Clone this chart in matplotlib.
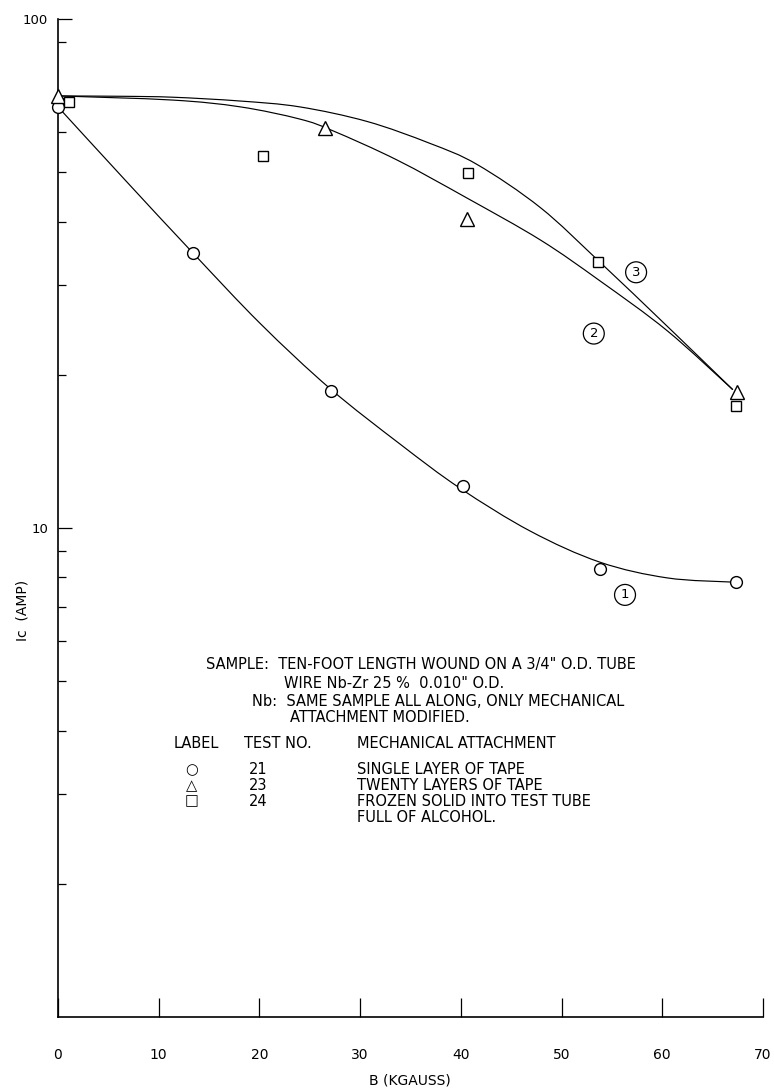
import matplotlib
matplotlib.use('Agg')
import matplotlib.pyplot as plt
import numpy as np
from matplotlib.path import Path
from matplotlib.patches import PathPatch
from matplotlib.ticker import FixedLocator, NullFormatter

plt.rcParams['font.family'] = ['DejaVu Sans']

W, H = 774, 1092

# measured points, B in kgauss, Ic in amp
b_21 = [0.0, 13.4, 27.1, 40.2, 53.8, 67.3]
ic_21 = [67.2, 34.7, 18.6, 12.1, 8.31, 7.83]
b_23 = [0.0, 26.5, 40.6, 67.4]
ic_23 = [70.6, 61.1, 40.5, 18.5]
b_24 = [1.1, 20.4, 40.7, 53.6, 67.3]
ic_24 = [68.7, 53.8, 49.8, 33.3, 17.4]

# hand drawn curves
curve1_b = [0.0, 6.65, 13.4, 20.1, 27.0, 34.0, 39.9, 46.9, 53.8, 60.5, 67.0]
curve1_ic = [67.2, 48.3, 34.7, 25.2, 18.8, 14.6, 11.98, 9.86, 8.57, 7.98, 7.83]
curve2_b = [0.2, 11.4, 18.1, 24.0, 27.3, 33.7, 40.6, 47.9, 53.8, 60.5, 67.0]
curve2_ic = [70.6, 69.3, 67.2, 63.6, 60.3, 52.8, 44.5, 36.8, 30.6, 24.4, 18.7]
curve3_b = [0.2, 6.2, 11.4, 18.1, 24.0, 30.7, 36.9, 41.6, 47.9, 53.8, 60.5, 67.0]
curve3_ic = [70.6, 70.5, 70.2, 69.0, 67.2, 62.9, 57.0, 51.8, 42.6, 33.3, 24.9, 18.7]

curve_tags = ['1', '2', '3']
tag_b = [56.3, 53.2, 57.4]
tag_ic = [7.39, 24.1, 31.8]

minor_ic = [2, 3, 4, 5, 6, 7, 8, 9, 20, 30, 40, 50, 60, 70, 90]

note_lines = [
    ('SAMPLE:  TEN-FOOT LENGTH WOUND ON A 3/4" O.D. TUBE', 206, 665),
    ('WIRE Nb-Zr 25 %  0.010" O.D.', 284, 684),
    ('Nb:  SAME SAMPLE ALL ALONG, ONLY MECHANICAL', 252, 701),
    ('ATTACHMENT MODIFIED.', 290, 718),
]
table_head = ['LABEL', 'TEST NO.', 'MECHANICAL ATTACHMENT']
table_syms = ['\u25cb', '\u25b3', '\u25a1']
table_tests = ['21', '23', '24']
table_desc = ['SINGLE LAYER OF TAPE', 'TWENTY LAYERS OF TAPE',
              'FROZEN SOLID INTO TEST TUBE', 'FULL OF ALCOHOL.']


def fx(px):
    return px / W


def fy(py):
    return 1 - py / H


def french_curve(xs, ys):
    # smooth bezier through the traced nodes (x, log y), like a drafting curve
    u = np.asarray(xs, float) * 10.0
    v = np.log10(ys) * 509.0
    pts = np.column_stack([u, v])
    verts = [pts[0]]
    codes = [Path.MOVETO]
    n = len(pts)
    for i in range(n - 1):
        p0 = pts[max(i - 1, 0)]
        p1 = pts[i]
        p2 = pts[i + 1]
        p3 = pts[min(i + 2, n - 1)]
        verts += [p1 + (p2 - p0) / 6.0, p2 - (p3 - p1) / 6.0, p2]
        codes += [Path.CURVE4] * 3
    verts = np.array(verts)
    verts = np.column_stack([verts[:, 0] / 10.0, 10 ** (verts[:, 1] / 509.0)])
    return Path(verts, codes)


fig = plt.figure(figsize=(W / 100, H / 100), dpi=100)
ax = fig.add_axes([fx(58), fy(1017), fx(763) - fx(58), fy(19) - fy(1017)])
ax.set_yscale('log')
ax.set_xlim(0, 70)
ax.set_ylim(1.095, 100)

for cb, ci in [(curve1_b, curve1_ic), (curve2_b, curve2_ic), (curve3_b, curve3_ic)]:
    ax.add_patch(PathPatch(french_curve(cb, ci), fill=False, ec='black', lw=0.85))

mk = dict(ls='none', mfc='white', mec='black', mew=1.0, clip_on=False, zorder=4)
ax.plot(b_21, ic_21, marker='o', ms=8.5, **mk)
ax.plot(b_23, ic_23, marker='^', ms=10.5, **mk)
ax.plot(b_24, ic_24, marker='s', ms=7.5, **mk)

for t, x, y in zip(curve_tags, tag_b, tag_ic):
    ax.text(x, y, t, ha='center', va='center', fontsize=9.5,
            bbox=dict(boxstyle='circle,pad=0.3', fc='white', ec='black', lw=0.9))

for s in ['top', 'right']:
    ax.spines[s].set_visible(False)
for s in ['left', 'bottom']:
    ax.spines[s].set_linewidth(1.2)

ax.set_xticks(range(0, 71, 10))
ax.tick_params(axis='x', direction='in', length=14, width=0.9, pad=22, labelsize=10)
ax.yaxis.set_major_locator(FixedLocator([10, 100]))
ax.set_yticklabels(['10', '100'])
ax.yaxis.set_minor_locator(FixedLocator(minor_ic))
ax.yaxis.set_minor_formatter(NullFormatter())
ax.tick_params(axis='y', which='major', direction='in', length=10, width=0.9, pad=7, labelsize=9.5)
ax.tick_params(axis='y', which='minor', direction='in', length=6, width=0.9)

fig.text(fx(410), fy(1080), 'B (KGAUSS)', ha='center', va='center', fontsize=10)
fig.text(fx(22), fy(610), 'Ic  (AMP)', ha='center', va='center', rotation=90, fontsize=10)

fs = 10.5
for txt, x, y in note_lines:
    fig.text(fx(x), fy(y), txt, ha='left', va='center', fontsize=fs)

head_x = [174, 244, 357]
for txt, x in zip(table_head, head_x):
    fig.text(fx(x), fy(744), txt, ha='left', va='center', fontsize=fs)

row_y = [770, 786, 801, 817]
for i, y in enumerate(row_y):
    if i < 3:
        fig.text(fx(192), fy(y), table_syms[i], ha='center', va='center', fontsize=10.5)
        fig.text(fx(258), fy(y), table_tests[i], ha='center', va='center', fontsize=fs)
    fig.text(fx(357), fy(y), table_desc[i], ha='left', va='center', fontsize=fs)

fig.savefig('out.png', dpi=100)
